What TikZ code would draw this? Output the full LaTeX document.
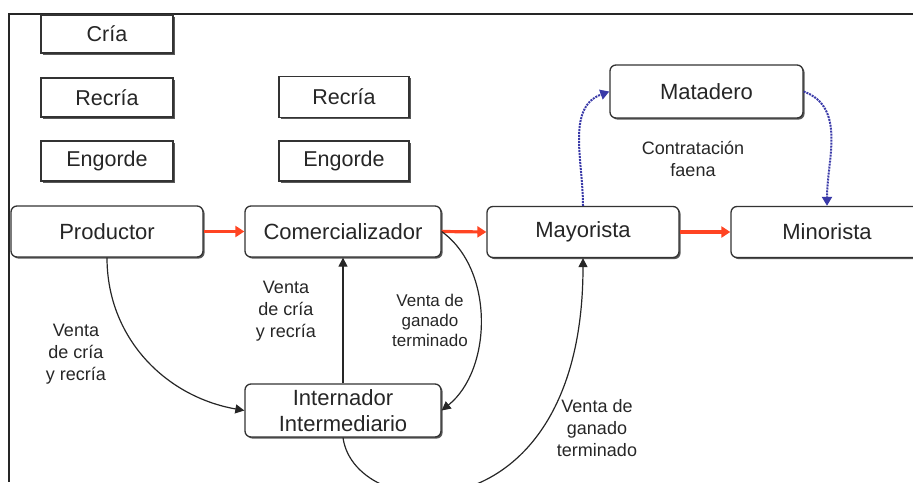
\documentclass[tikz,border=0pt]{standalone}
\usepackage{fontspec}
\setmainfont{Liberation Sans}
\usetikzlibrary{arrows.meta,shadows}
\definecolor{redarrow}{HTML}{FF4422}
\definecolor{bluearrow}{HTML}{3A3AA8}
\definecolor{boxline}{HTML}{333333}
\begin{document}
\begin{tikzpicture}[x=1pt,y=-1pt,
  shadowed/.style={drop shadow={shadow xshift=1.6pt, shadow yshift=-1.6pt, fill=black!65, opacity=1}},
  smallbox/.style={draw=boxline, line width=1.3pt, fill=white, shadowed, minimum width=132pt, minimum height=39pt, inner sep=0pt, text=black!85, font=\fontsize{21.5}{24}\selectfont},
  bigbox/.style={draw=boxline, line width=1.3pt, fill=white, shadowed, rounded corners=6pt, minimum width=192pt, minimum height=51pt, inner sep=0pt, align=center, text=black!85, font=\fontsize{22}{26}\selectfont},
  redarr/.style={draw=redarrow, line width=3.2pt, -{Triangle[length=9pt,width=11pt]}},
  bluearr/.style={draw=bluearrow, line width=2pt, densely dotted, -{Triangle[length=9pt,width=10pt]}},
  blackarr/.style={draw=black!85, line width=1.2pt, -{Triangle[length=9pt,width=9pt]}},
  lbl/.style={align=center, inner sep=0pt, text=black!85, font=\fontsize{18}{22}\selectfont},
  frameline/.style={draw=black!85, line width=1.5pt}
]
\useasboundingbox (0,0) rectangle (913,482);
\clip (0,0) rectangle (913,482);

% frame
\coordinate (ftl) at (9,14);
\coordinate (ftr) at (913,14);
\coordinate (fbl) at (9,482);
\draw[frameline] (ftr) -- (ftl) -- (fbl);

% small boxes
\node[smallbox, minimum height=38pt] (cria) at (107,34) {Cría};
\node[smallbox] (recria1) at (107,97.5) {Recría};
\node[smallbox, minimum height=40pt] (engorde1) at (107,161) {Engorde};
\node[smallbox, minimum width=130pt, minimum height=41pt] (recria2) at (344,97) {Recría};
\node[smallbox, minimum width=130pt, minimum height=40pt] (engorde2) at (344,161) {Engorde};

% main boxes
\node[bigbox] (prod) at (107,231.5) {Productor};
\node[bigbox, minimum width=196pt] (comer) at (343,231.5) {Comercializador};
\node[bigbox] (mayor) at (583,232) {Mayorista};
\node[bigbox] (minor) at (827,232) {Minorista};
\node[bigbox, minimum width=193pt, minimum height=53pt] (matad) at (706.5,91.5) {Matadero};
\node[bigbox, minimum width=196pt, minimum height=53pt] (inter) at (343,410.5) {Internador\\Intermediario};

% red flow
\draw[redarr] (prod.east) -- (comer.west);
\draw[redarr] (comer.east) -- (mayor.west);
\draw[redarr] (mayor.east) -- (minor.west);

% blue dotted
\draw[bluearr] (mayor.north) to[out=90, in=200] (matad.west);
\draw[bluearr] (matad.east) to[out=-20, in=90] (minor.north);

% black arrows
\draw[blackarr] (prod.south) to[out=-90, in=170] (inter.west);
\draw[blackarr] (inter.north) -- (comer.south);
\draw[blackarr] (comer.east) .. controls (495,270) and (492,370) .. (inter.east);
\draw[blackarr] (inter.south) .. controls (355,525) and (583,540) .. (mayor.south);

% labels
\node[lbl] (l1) at (76,354) {Venta\\de cría\\y recría};
\node[lbl] (l2) at (286,311) {Venta\\de cría\\y recría};
\node[lbl, font=\fontsize{17}{20}\selectfont] (l3) at (430,320) {Venta de\\ganado\\terminado};
\node[lbl] (l4) at (597,428) {Venta de\\ganado\\terminado};
\node[lbl] (l5) at (693,159) {Contratación\\faena};
\end{tikzpicture}
\end{document}
